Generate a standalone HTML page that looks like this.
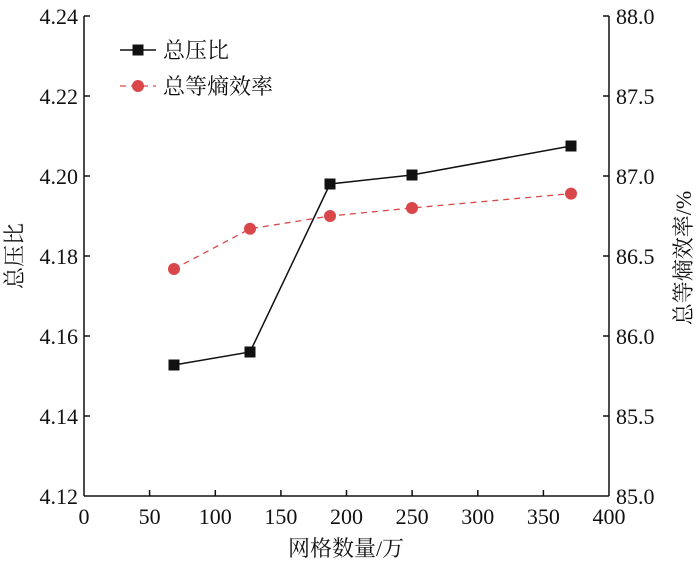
<!DOCTYPE html>
<html><head><meta charset="utf-8"><style>body{margin:0;background:#fff}svg text{font-family:"Liberation Serif","DejaVu Serif","Noto Serif CJK SC",serif;font-size:22px}</style></head><body>
<svg width="700" height="564" xmlns="http://www.w3.org/2000/svg" fill="#111">
<g stroke="#111" stroke-width="1.5" fill="none">
<line x1="84" y1="16" x2="84" y2="496"/><line x1="609" y1="16" x2="609" y2="496"/><line x1="84" y1="496" x2="609" y2="496"/>
<path d="M84 16h6M84 96h6M84 176h6M84 256h6M84 336h6M84 416h6"/>
<path d="M609 16h-6M609 96h-6M609 176h-6M609 256h-6M609 336h-6M609 416h-6"/>
<path d="M149.6 496v-6M215.3 496v-6M280.9 496v-6M346.5 496v-6M412.1 496v-6M477.8 496v-6M543.4 496v-6"/>
</g>
<g text-anchor="end"><text x="78" y="24">4.24</text><text x="78" y="104">4.22</text><text x="78" y="184">4.20</text><text x="78" y="264">4.18</text><text x="78" y="344">4.16</text><text x="78" y="424">4.14</text><text x="78" y="504">4.12</text></g>
<g><text x="616" y="24">88.0</text><text x="616" y="104">87.5</text><text x="616" y="184">87.0</text><text x="616" y="264">86.5</text><text x="616" y="344">86.0</text><text x="616" y="424">85.5</text><text x="616" y="504">85.0</text></g>
<g text-anchor="middle"><text x="84" y="524">0</text><text x="149.6" y="524">50</text><text x="215.3" y="524">100</text><text x="280.9" y="524">150</text><text x="346.5" y="524">200</text><text x="412.1" y="524">250</text><text x="477.8" y="524">300</text><text x="543.4" y="524">350</text><text x="609" y="524">400</text>
<text x="346" y="556">网格数量/万</text>
<text transform="translate(22,256) rotate(-90)">总压比</text>
<text transform="translate(691,258) rotate(-90)">总等熵效率/%</text></g>
<polyline points="174,365 250,352 330,184 412,175 571,146" fill="none" stroke="#111" stroke-width="1.5"/>
<g fill="#111"><rect x="168.5" y="359.5" width="11" height="11"/><rect x="244.5" y="346.5" width="11" height="11"/><rect x="324.5" y="178.5" width="11" height="11"/><rect x="406.5" y="169.5" width="11" height="11"/><rect x="565.5" y="140.5" width="11" height="11"/></g>
<polyline points="174,269 250,228.8 330,216 412,208 571,193.6" fill="none" stroke="#d9474b" stroke-width="1.3" stroke-dasharray="6,5"/>
<g fill="#d9474b"><circle cx="174" cy="269" r="6"/><circle cx="250" cy="228.8" r="6"/><circle cx="330" cy="216" r="6"/><circle cx="412" cy="208" r="6"/><circle cx="571" cy="193.6" r="6"/></g>
<line x1="120" y1="50" x2="156" y2="50" stroke="#111" stroke-width="1.5"/><rect x="132.5" y="44.5" width="11" height="11" fill="#111"/>
<text x="163" y="58">总压比</text>
<line x1="120" y1="86" x2="156" y2="86" stroke="#d9474b" stroke-width="1.3" stroke-dasharray="6,5"/><circle cx="138" cy="86" r="6" fill="#d9474b"/>
<text x="163" y="94">总等熵效率</text>
</svg>
</body></html>
